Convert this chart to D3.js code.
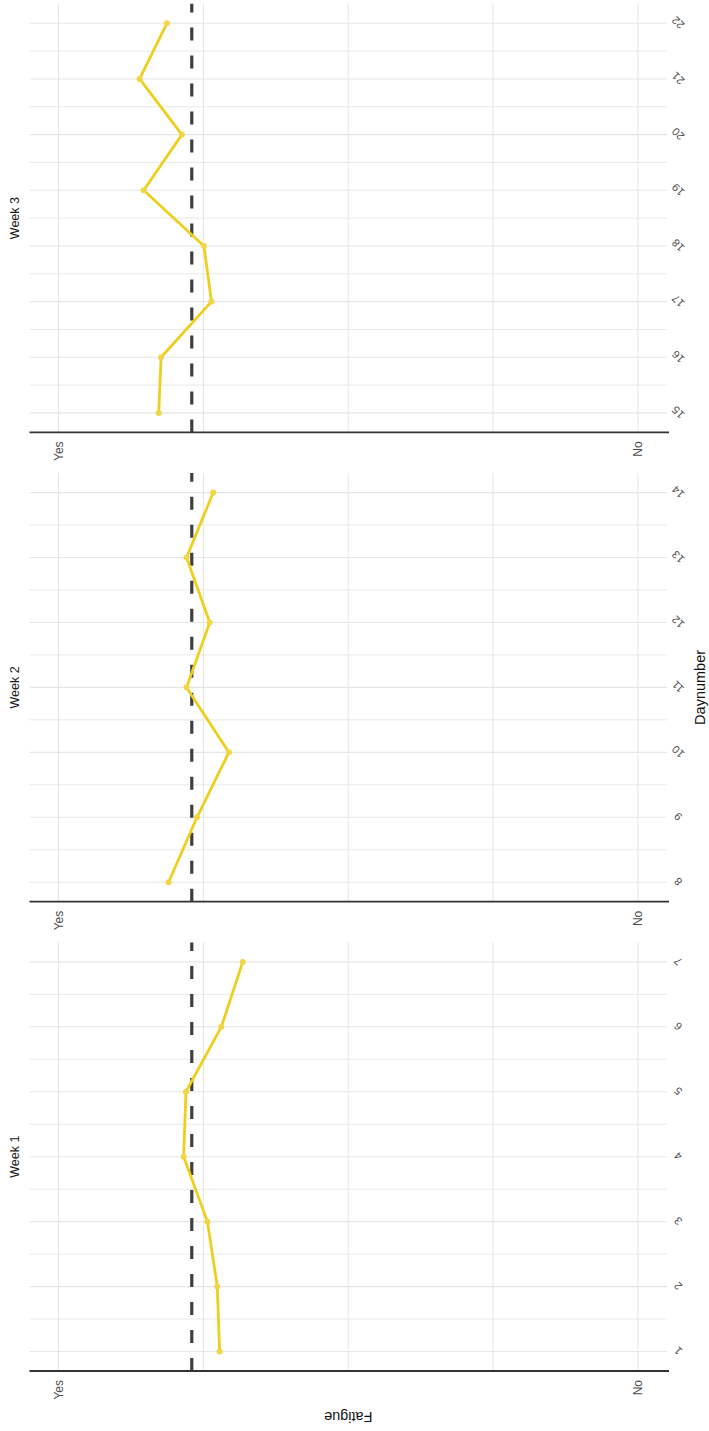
<!DOCTYPE html>
<html>
<head>
<meta charset="utf-8">
<script src="https://cdn.jsdelivr.net/npm/d3@7"></script>
<style>
  html, body { margin: 0; padding: 0; background: #ffffff; }
  svg { display: block; font-family: "Liberation Sans", Arial, sans-serif; }
</style>
</head>
<body>
<svg id="chart" width="709" height="1431"></svg>
<script>
// ---- data ----
const weeks = ["Week 1", "Week 2", "Week 3"];
const week1Days = [1, 2, 3, 4, 5, 6, 7];
const week1Fatigue = [27.8, 27.4, 25.7, 21.6, 22.0, 28.1, 31.8];
const week2Days = [8, 9, 10, 11, 12, 13, 14];
const week2Fatigue = [19.0, 23.9, 29.4, 22.1, 26.1, 22.1, 26.7];
const week3Days = [15, 16, 17, 18, 19, 20, 21, 22];
const week3Fatigue = [17.3, 17.7, 26.4, 25.1, 14.7, 21.3, 14.0, 18.7];
const meanFatigue = 23.0;                 // dashed reference line
const fatigueBreaks = [0, 100];
const fatigueBreakLabels = ["Yes", "No"];
const fatigueGrid = [0, 25, 50, 75, 100];
const xTitle = "Daynumber";
const yTitle = "Fatigue";

// ---- layout in the un-rotated (original) frame: 1431 wide x 709 high ----
const W = 1431, H = 709;
const panelLeft0 = 60, panelW = 428.6, panelStep = 469.3;
const panelTop = 29.5, panelBottom = 667;
const lineColor = "#EFCF1D", pointColor = "#F2D646";
const gridColor = "#E6E6E6";

const svg = d3.select("#chart");
const root = svg.append("g").attr("transform", `translate(0,${W}) rotate(-90)`);

const y = d3.scaleLinear().domain([-5, 105]).range([panelTop, panelBottom]);

const weekDays = [week1Days, week2Days, week3Days];
const weekVals = [week1Fatigue, week2Fatigue, week3Fatigue];

weeks.forEach((wk, i) => {
  const days = weekDays[i], vals = weekVals[i];
  const pl = panelLeft0 + i * panelStep;
  const dmin = d3.min(days), dmax = d3.max(days), r = dmax - dmin;
  const x = d3.scaleLinear().domain([dmin - 0.05 * r, dmax + 0.05 * r]).range([pl, pl + panelW]);
  const g = root.append("g");

  // minor grid (half days)
  const minor = days.slice(0, -1).map(d => d + 0.5);
  g.selectAll(".minor").data(minor).join("line")
    .attr("x1", d => x(d)).attr("x2", d => x(d))
    .attr("y1", panelTop).attr("y2", panelBottom)
    .attr("stroke", gridColor).attr("stroke-width", 0.9);
  // major grid (days)
  g.selectAll(".major").data(days).join("line")
    .attr("x1", d => x(d)).attr("x2", d => x(d))
    .attr("y1", panelTop).attr("y2", panelBottom)
    .attr("stroke", gridColor).attr("stroke-width", 1.1);
  // fatigue grid
  g.selectAll(".fgrid").data(fatigueGrid).join("line")
    .attr("x1", pl).attr("x2", pl + panelW)
    .attr("y1", d => y(d)).attr("y2", d => y(d))
    .attr("stroke", gridColor).attr("stroke-width", 1.1);

  // mean dashed line
  g.append("line")
    .attr("x1", pl).attr("x2", pl + panelW)
    .attr("y1", y(meanFatigue)).attr("y2", y(meanFatigue))
    .attr("stroke", "#3F3F3F").attr("stroke-width", 3.2)
    .attr("stroke-dasharray", "13,15");

  // series line + points
  const pts = days.map((d, k) => ({ d, v: vals[k] }));
  g.append("path").datum(pts)
    .attr("fill", "none").attr("stroke", lineColor).attr("stroke-width", 2.8)
    .attr("stroke-linejoin", "round")
    .attr("d", d3.line().x(p => x(p.d)).y(p => y(p.v)));
  g.selectAll(".pt").data(pts).join("circle")
    .attr("cx", p => x(p.d)).attr("cy", p => y(p.v)).attr("r", 3)
    .attr("fill", pointColor);

  // day axis (bottom in original frame)
  const xa = g.append("g").attr("transform", `translate(0,${panelBottom})`)
    .call(d3.axisBottom(x).tickValues(days).tickFormat(d3.format("d")).tickSize(0).tickPadding(0));
  xa.select(".domain").remove();
  xa.selectAll("text")
    .attr("y", 0).attr("dy", null)
    .attr("transform", "translate(0,11) rotate(-45)")
    .attr("text-anchor", "middle").attr("dominant-baseline", "central")
    .attr("fill", "#4D4D4D").style("font-size", "11px");

  // fatigue axis (left in original frame)
  const ya = g.append("g").attr("transform", `translate(${pl},0)`)
    .call(d3.axisLeft(y).tickValues(fatigueBreaks)
      .tickFormat((d, k) => fatigueBreakLabels[k]).tickSize(0).tickPadding(9));
  ya.select(".domain").remove();
  ya.selectAll("text").attr("fill", "#4D4D4D").style("font-size", "12px");
  // axis line
  g.append("line")
    .attr("x1", pl).attr("x2", pl)
    .attr("y1", panelTop).attr("y2", panelBottom + 2)
    .attr("stroke", "#333333").attr("stroke-width", 1.8);

  // strip label
  g.append("text")
    .attr("x", pl + panelW / 2).attr("y", 15)
    .attr("text-anchor", "middle").attr("dominant-baseline", "central")
    .attr("fill", "#1A1A1A").style("font-size", "12.5px")
    .text(wk);
});

// axis titles
root.append("text")
  .attr("x", panelLeft0 + (2 * panelStep + panelW) / 2).attr("y", 700)
  .attr("text-anchor", "middle").attr("dominant-baseline", "central")
  .attr("fill", "#111").style("font-size", "14.5px").text(xTitle);
root.append("text")
  .attr("transform", `translate(14,${(panelTop + panelBottom) / 2}) rotate(-90)`)
  .attr("text-anchor", "middle").attr("dominant-baseline", "central")
  .attr("fill", "#111").style("font-size", "14.5px").text(yTitle);
</script>
</body>
</html>
